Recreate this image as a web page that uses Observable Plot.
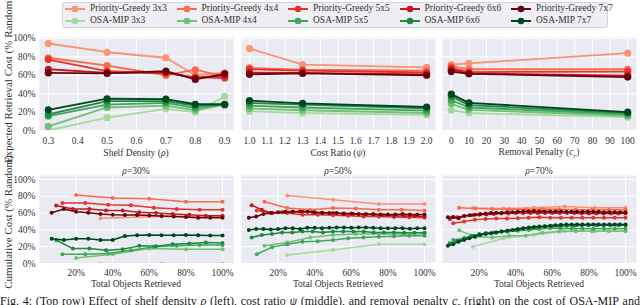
<!DOCTYPE html>
<html><head><meta charset="utf-8">
<script src="https://cdn.jsdelivr.net/npm/d3@7"></script>
<script src="https://cdn.jsdelivr.net/npm/@observablehq/plot@0.6"></script>
<style>
body{margin:0;width:640px;height:305px;overflow:hidden;position:relative;background:#fff;font-family:"Liberation Serif","Times New Roman",serif;color:#333}
.lbl{position:absolute;font-size:9.5px;white-space:nowrap;transform:translate(-50%,-50%);color:#333;line-height:1}
.ylbl{position:absolute;font-size:11px;white-space:nowrap;transform:translate(-50%,-50%) rotate(-90deg);color:#333;line-height:1}
#legend{position:absolute;left:62px;top:2px;width:546px;height:26px;border:1px solid #d2d2d8;border-radius:3px;background:#eeeef4;box-sizing:border-box}
.entry{position:absolute;font-size:9.5px;white-space:nowrap;display:flex;align-items:center;gap:5px;line-height:1}
#caption{position:absolute;left:0;top:294px;width:640px;display:flex;justify-content:space-between;font-size:12px;white-space:nowrap;color:#222;line-height:1.2}
</style></head><body>
<script>
// ---------- data ----------
const sizes = ["3x3", "4x4", "5x5", "6x6", "7x7"];
const redColors = ["#fc9272", "#fb6a4a", "#e5332a", "#c8171c", "#6a0510"];
const greenColors = ["#a5d99e", "#6fc173", "#3ea75a", "#1c8a43", "#00451c"];

// Top row
const density = [0.3, 0.5, 0.7, 0.8, 0.9];
const densityPG = [
  [0.945, 0.85, 0.79, 0.60, 0.63],
  [0.79, 0.705, 0.60, 0.66, 0.585],
  [0.77, 0.645, 0.62, 0.58, 0.57],
  [0.665, 0.625, 0.63, 0.57, 0.60],
  [0.625, 0.62, 0.645, 0.555, 0.615]
];
const densityOSA = [
  [0.0, 0.14, 0.235, 0.20, 0.37],
  [0.045, 0.25, 0.27, 0.22, 0.28],
  [0.155, 0.28, 0.30, 0.245, 0.28],
  [0.175, 0.32, 0.32, 0.27, 0.28],
  [0.225, 0.345, 0.34, 0.285, 0.285]
];
const costRatio = [1.0, 1.3, 2.0];
const costPG = [
  [0.89, 0.715, 0.685],
  [0.68, 0.66, 0.65],
  [0.665, 0.65, 0.63],
  [0.63, 0.625, 0.61],
  [0.61, 0.62, 0.60]
];
const costOSA = [
  [0.21, 0.19, 0.17],
  [0.24, 0.22, 0.19],
  [0.27, 0.25, 0.215],
  [0.30, 0.28, 0.24],
  [0.325, 0.295, 0.255]
];
const penalty = [0, 10, 100];
const penaltyPG = [
  [0.715, 0.73, 0.84],
  [0.70, 0.665, 0.665],
  [0.68, 0.635, 0.64],
  [0.66, 0.62, 0.595],
  [0.64, 0.615, 0.58]
];
const penaltyOSA = [
  [0.22, 0.19, 0.145],
  [0.29, 0.225, 0.16],
  [0.33, 0.25, 0.175],
  [0.37, 0.275, 0.19],
  [0.395, 0.30, 0.20]
];

// Bottom row: cumulative cost after each retrieved object (x = k / n)
const cum30PG = [
  [0.54, 0.56, 0.56],
  [0.815, 0.78, 0.77, 0.735, 0.735],
  [0.72, 0.72, 0.70, 0.695, 0.665, 0.65, 0.64, 0.64],
  [0.69, 0.65, 0.65, 0.63, 0.63, 0.61, 0.60, 0.59, 0.58, 0.57, 0.57],
  [0.605, 0.65, 0.617, 0.605, 0.59, 0.58, 0.577, 0.577, 0.573, 0.565, 0.56, 0.553, 0.545, 0.545, 0.545]
];
const cum30OSA = [
  [0.0, 0.0, 0.0],
  [0.065, 0.11, 0.18, 0.17, 0.17],
  [0.11, 0.11, 0.12, 0.158, 0.198, 0.21, 0.22, 0.22],
  [0.28, 0.178, 0.178, 0.158, 0.17, 0.21, 0.205, 0.23, 0.237, 0.25, 0.245],
  [0.296, 0.28, 0.296, 0.296, 0.28, 0.28, 0.328, 0.336, 0.34, 0.336, 0.336, 0.34, 0.336, 0.332, 0.332]
];
const cum50PG = [
  [0.81, 0.76, 0.71, 0.71],
  [0.735, 0.66, 0.64, 0.66, 0.655, 0.64, 0.64, 0.63],
  [0.63, 0.60, 0.60, 0.58, 0.58, 0.575, 0.57, 0.56, 0.56, 0.555, 0.55, 0.545],
  [0.695, 0.64, 0.60, 0.61, 0.61, 0.62, 0.61, 0.60, 0.60, 0.59, 0.59, 0.58, 0.58, 0.575, 0.57, 0.565, 0.565, 0.56],
  [0.545, 0.56, 0.59, 0.60, 0.61, 0.615, 0.62, 0.62, 0.615, 0.61, 0.605, 0.60, 0.60, 0.595, 0.595, 0.59, 0.59, 0.59, 0.585, 0.585, 0.585, 0.59, 0.585, 0.585, 0.585]
];
const cum50OSA = [
  [0.10, 0.16, 0.23, 0.23],
  [0.21, 0.25, 0.31, 0.34, 0.35, 0.355, 0.35, 0.35],
  [0.11, 0.195, 0.23, 0.26, 0.265, 0.28, 0.30, 0.31, 0.32, 0.325, 0.33, 0.33],
  [0.31, 0.34, 0.35, 0.37, 0.37, 0.38, 0.38, 0.37, 0.38, 0.38, 0.38, 0.38, 0.37, 0.37, 0.37, 0.365, 0.365, 0.365],
  [0.40, 0.41, 0.41, 0.405, 0.41, 0.42, 0.42, 0.41, 0.425, 0.425, 0.42, 0.425, 0.43, 0.43, 0.425, 0.43, 0.43, 0.425, 0.42, 0.42, 0.42, 0.42, 0.415, 0.42, 0.42]
];
const cum70PG = [
  [0.66, 0.655, 0.665, 0.68, 0.665, 0.665],
  [0.665, 0.655, 0.65, 0.645, 0.645, 0.65, 0.645, 0.64, 0.64, 0.64, 0.64],
  [0.48, 0.50, 0.52, 0.53, 0.535, 0.535, 0.54, 0.545, 0.55, 0.545, 0.545, 0.545, 0.545, 0.545, 0.545, 0.545, 0.545],
  [0.53, 0.55, 0.565, 0.575, 0.58, 0.585, 0.59, 0.595, 0.595, 0.60, 0.60, 0.60, 0.60, 0.60, 0.60, 0.60, 0.60, 0.60, 0.595, 0.595, 0.595, 0.595, 0.595, 0.595, 0.595],
  [0.55, 0.555, 0.54, 0.565, 0.575, 0.58, 0.59, 0.595, 0.60, 0.605, 0.605, 0.61, 0.61, 0.615, 0.62, 0.62, 0.625, 0.62, 0.62, 0.62, 0.62, 0.62, 0.615, 0.615, 0.615, 0.615, 0.615, 0.615, 0.615, 0.61, 0.61, 0.61, 0.61, 0.61]
];
const cum70OSA = [
  [0.20, 0.30, 0.34, 0.385, 0.385, 0.385],
  [0.395, 0.32, 0.31, 0.33, 0.33, 0.365, 0.38, 0.385, 0.385, 0.385, 0.385],
  [0.28, 0.30, 0.33, 0.36, 0.37, 0.38, 0.39, 0.40, 0.41, 0.42, 0.42, 0.415, 0.415, 0.415, 0.415, 0.415, 0.415],
  [0.24, 0.27, 0.30, 0.33, 0.35, 0.36, 0.37, 0.38, 0.39, 0.40, 0.41, 0.42, 0.43, 0.44, 0.445, 0.445, 0.45, 0.45, 0.455, 0.455, 0.455, 0.455, 0.455, 0.455, 0.455],
  [0.21, 0.23, 0.26, 0.28, 0.30, 0.32, 0.34, 0.35, 0.36, 0.37, 0.38, 0.39, 0.40, 0.41, 0.42, 0.43, 0.435, 0.44, 0.445, 0.45, 0.455, 0.46, 0.465, 0.465, 0.465, 0.465, 0.465, 0.465, 0.465, 0.465, 0.465, 0.465, 0.465, 0.465]
];

const yTicks = [0, 0.2, 0.4, 0.6, 0.8, 1.0];
const densityTicks = [0.3, 0.4, 0.5, 0.6, 0.7, 0.8, 0.9];
const costTicks = [1.0, 1.1, 1.2, 1.3, 1.4, 1.5, 1.6, 1.7, 1.8, 1.9, 2.0];
const penaltyTicks = [0, 10, 20, 30, 40, 50, 60, 70, 80, 90, 100];
const fracTicks = [0.2, 0.4, 0.6, 0.8, 1.0];

// ---------- drawing ----------
const frames = [[39, 233], [241, 435], [442, 636]];

function seriesFrom(xs, pg, osa) {
  const out = [];
  sizes.forEach((s, i) => {
    out.push({color: redColors[i], data: pg[i].map((v, j) => ({x: xs[j], y: v}))});
  });
  sizes.forEach((s, i) => {
    out.push({color: greenColors[i], data: osa[i].map((v, j) => ({x: xs[j], y: v}))});
  });
  return out;
}
function cumSeries(pg, osa) {
  const out = [];
  sizes.forEach((s, i) => {
    out.push({color: redColors[i], data: pg[i].map((v, j, a) => ({x: (j + 1) / a.length, y: v}))});
  });
  sizes.forEach((s, i) => {
    out.push({color: greenColors[i], data: osa[i].map((v, j, a) => ({x: (j + 1) / a.length, y: v}))});
  });
  return out;
}

function panel({col, top, bottom, xDomain, xTicks, xFmt, yDomain, series, r, sw, xPad}) {
  const [l, rr] = frames[col];
  const mL = 40, mR = 4, mT = 4, mB = 20;
  const marks = [
    Plot.frame({fill: "#eaeaf2", stroke: null}),
    Plot.gridX(xTicks, {stroke: "#fff", strokeOpacity: 1, strokeWidth: 1}),
    Plot.gridY(yTicks, {stroke: "#fff", strokeOpacity: 1, strokeWidth: 1}),
    Plot.axisX(xTicks, {tickSize: 0, tickPadding: xPad, tickFormat: xFmt, label: null, fontSize: 9.5})
  ];
  if (col === 0) marks.push(Plot.axisY(yTicks, {tickSize: 0, tickPadding: 4, tickFormat: d3.format(".0%"), label: null, fontSize: 9.5}));
  for (const s of series) {
    marks.push(Plot.line(s.data, {x: "x", y: "y", stroke: s.color, strokeWidth: sw, clip: true}));
    marks.push(Plot.dot(s.data, {x: "x", y: "y", fill: s.color, r, stroke: null, clip: true}));
  }
  const chart = Plot.plot({
    width: rr - l + mL + mR, height: bottom - top + mT + mB,
    marginLeft: mL, marginRight: mR, marginTop: mT, marginBottom: mB,
    x: {domain: xDomain},
    y: {domain: yDomain, axis: col === 0 ? undefined : null},
    style: {fontFamily: "'Liberation Serif','Times New Roman',serif", fontSize: "9.5px", color: "#333", background: "transparent", overflow: "visible"},
    marks
  });
  chart.style.position = "absolute";
  chart.style.left = (l - mL) + "px";
  chart.style.top = (top - mT) + "px";
  document.body.appendChild(chart);
}

const f1 = d3.format(".1f");
const pct = d3.format(".0%");
panel({col: 0, top: 37, bottom: 130, xDomain: [0.27, 0.93], xTicks: densityTicks, xFmt: f1, yDomain: [0, 1.01], series: seriesFrom(density, densityPG, densityOSA), r: 3.6, sw: 1.8, xPad: 7});
panel({col: 1, top: 37, bottom: 130, xDomain: [0.955, 2.05], xTicks: costTicks, xFmt: f1, yDomain: [0, 1.01], series: seriesFrom(costRatio, costPG, costOSA), r: 3.6, sw: 1.8, xPad: 7});
panel({col: 2, top: 37, bottom: 130, xDomain: [-5, 105], xTicks: penaltyTicks, xFmt: d => d, yDomain: [0, 1.01], series: seriesFrom(penalty, penaltyPG, penaltyOSA), r: 3.6, sw: 1.8, xPad: 7});
panel({col: 0, top: 175, bottom: 263, xDomain: [0, 1.06], xTicks: fracTicks, xFmt: pct, yDomain: [0, 1.048], series: cumSeries(cum30PG, cum30OSA), r: 2, sw: 1.5, xPad: 6});
panel({col: 1, top: 175, bottom: 263, xDomain: [0, 1.06], xTicks: fracTicks, xFmt: pct, yDomain: [0, 1.048], series: cumSeries(cum50PG, cum50OSA), r: 2, sw: 1.5, xPad: 6});
panel({col: 2, top: 175, bottom: 263, xDomain: [0, 1.06], xTicks: fracTicks, xFmt: pct, yDomain: [0, 1.048], series: cumSeries(cum70PG, cum70OSA), r: 2, sw: 1.5, xPad: 6});

// ---------- text ----------
function addLabel(html, x, y, cls) {
  const d = document.createElement("div");
  d.className = cls || "lbl";
  d.innerHTML = html;
  d.style.left = x + "px";
  d.style.top = y + "px";
  document.body.appendChild(d);
}
addLabel("Shelf Density (<i>ρ</i>)", 136, 154);
addLabel("Cost Ratio (<i>ψ</i>)", 338, 154);
addLabel("Removal Penalty (<i>c<sub style='font-size:7px'>r</sub></i>)", 539, 154);
addLabel("<i>ρ</i>=30%", 136, 172);
addLabel("<i>ρ</i>=50%", 338, 172);
addLabel("<i>ρ</i>=70%", 539, 172);
addLabel("Total Objects Retrieved", 136, 285);
addLabel("Total Objects Retrieved", 338, 285);
addLabel("Total Objects Retrieved", 539, 285);
addLabel("Expected Retrieval Cost (% Random)", 8, 80, "ylbl");
addLabel("Cumulative Cost (% Random)", 8, 222, "ylbl");

// legend
const legend = document.createElement("div");
legend.id = "legend";
document.body.appendChild(legend);
const algos = [["Priority-Greedy", redColors], ["OSA-MIP", greenColors]];
algos.forEach(([name, cols], row) => {
  sizes.forEach((s, i) => {
    const e = document.createElement("div");
    e.className = "entry";
    e.style.left = (2 + i * 111.5) + "px";
    e.style.top = (row === 0 ? 1 : 13) + "px";
    e.style.height = "10px";
    e.innerHTML = `<svg width="20" height="8"><line x1="0" y1="4" x2="20" y2="4" stroke="${cols[i]}" stroke-width="2"/><circle cx="10" cy="4" r="3.3" fill="${cols[i]}"/></svg><span>${name} ${s}</span>`;
    legend.appendChild(e);
  });
});

// caption (first line, cut by the page edge as in the reference)
const cap = document.createElement("div");
cap.id = "caption";
const words = ["Fig.", "4:", "(Top", "row)", "Effect", "of", "shelf", "density", "<i>ρ</i>", "(left),", "cost", "ratio", "<i>ψ</i>", "(middle),", "and", "removal", "penalty", "<i>c<sub style='font-size:8px'>r</sub></i>", "(right)", "on", "the", "cost", "of", "OSA-MIP", "and"];
cap.innerHTML = words.map(w => `<span>${w}</span>`).join("");
document.body.appendChild(cap);
</script>
</body></html>
